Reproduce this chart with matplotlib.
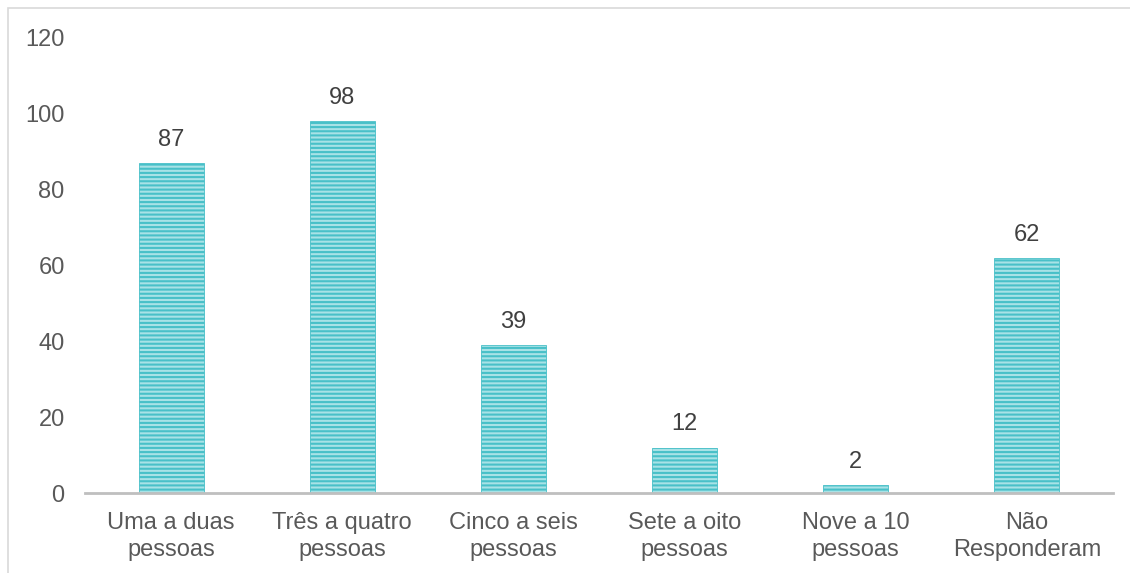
import matplotlib
matplotlib.use("Agg")
import matplotlib.pyplot as plt
from matplotlib.patches import Rectangle

categories = ["Uma a duas\npessoas", "Três a quatro\npessoas", "Cinco a seis\npessoas",
              "Sete a oito\npessoas", "Nove a 10\npessoas", "Não\nResponderam"]
values = [87, 98, 39, 12, 2, 62]
yticks = [0, 20, 40, 60, 80, 100, 120]

plt.rcParams['font.family'] = ['Liberation Sans', 'DejaVu Sans']
plt.rcParams['hatch.linewidth'] = 1.5
plt.rcParams['hatch.color'] = '#48C0C8'

fig = plt.figure(figsize=(11.3, 5.73), dpi=100)
ax = fig.add_axes([85.5/1130, 1-493/573, (1112.5-85.5)/1130, (493-38)/573])

x = list(range(len(categories)))
bars = ax.bar(x, values, width=0.38, color='#A8E2E6', edgecolor='#48C0C8',
              hatch='----', linewidth=0.6)
for xi, v in zip(x, values):
    ax.text(xi, v + 3.2, str(v), ha='center', va='bottom', fontsize=17, color='#404040')

ax.set_xlim(-0.5, len(categories) - 0.5)
ax.set_ylim(0, 120)
ax.set_yticks(yticks)
ax.set_xticks(x)
ax.set_xticklabels(categories, fontsize=17, color='#595959', linespacing=1.28)
ax.tick_params(axis='y', labelsize=17, labelcolor='#595959', length=0, pad=15)
ax.tick_params(axis='x', length=0, pad=14)
for s in ['top', 'right', 'left']:
    ax.spines[s].set_visible(False)
ax.spines['bottom'].set_color('#BFBFBF')
ax.spines['bottom'].set_linewidth(2)

fig.patches.append(Rectangle((8/1130, -0.1), 1.2, 1 - 8/573 + 0.1, transform=fig.transFigure,
                             fill=False, edgecolor='#D9D9D9', linewidth=1.2))

fig.savefig("out.png", dpi=100)
